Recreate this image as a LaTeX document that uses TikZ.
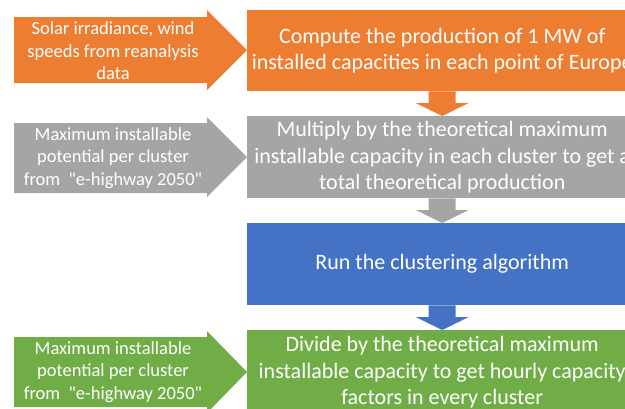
\documentclass[tikz,border=0pt]{standalone}
\usepackage{fontspec}
\setmainfont{Carlito}[Ligatures=TeXOff]
\usetikzlibrary{calc}
\definecolor{cOr}{HTML}{ED7D31}
\definecolor{cGr}{HTML}{A5A5A5}
\definecolor{cBl}{HTML}{4472C4}
\definecolor{cGn}{HTML}{70AD47}
\newcommand{\downarr}[3]{%
  \fill[#3] let \p1=(#1.south), \p2=(#2.north) in
    (\x1-13.5pt,\y1) -- (\x1+13.5pt,\y1) -- (\x1+13.5pt,\y2+13pt) -- (\x1+26.5pt,\y2+13pt)
    -- (\x1,\y2) -- (\x1-26.5pt,\y2+13pt) -- (\x1-13.5pt,\y2+13pt) -- cycle;}
\newcommand{\leftarr}[6]{% color, bodytop, bodybottom, headtop, headbottom, tip y
  \fill[#1] (14,#2) -- (207,#2) -- (207,#4) -- (247,#6) -- (207,#5) -- (207,#3) -- (14,#3) -- cycle;}
\begin{document}
\begin{tikzpicture}[x=1pt,y=-1pt,
  box/.style={minimum width=390pt, inner sep=0pt, text=white,
    font=\fontsize{22}{26.5}\selectfont, align=center, anchor=north west},
  intext/.style={text=white, inner sep=0pt, align=center,
    font=\fontsize{18.5}{22.5}\selectfont}]
\useasboundingbox (0,0) rectangle (625,408);
\clip (0,0) rectangle (625,408);
% boxes
\node[box, fill=cOr, minimum height=81pt] (b1) at (247,10)
  {Compute the production of 1 MW of\\installed capacities in each point of Europe};
\node[box, fill=cGr, minimum height=82pt] (b2) at (247,116)
  {Multiply by the theoretical maximum\\installable capacity in each cluster to get a\\total theoretical production};
\node[box, fill=cBl, minimum height=82pt] (b3) at (247,223)
  {Run the clustering algorithm};
\node[box, fill=cGn, minimum height=84pt] (b4) at (247,330)
  {Divide by the theoretical maximum\\installable capacity to get hourly capacity\\factors in every cluster};
% connectors
\downarr{b1}{b2}{cOr}
\downarr{b2}{b3}{cGr}
\downarr{b3}{b4}{cBl}
% input arrows
\leftarr{cOr}{17}{83}{10}{90}{50}
\node[intext] (i1) at (113,51) {Solar irradiance, wind\\speeds from reanalysis\\data};
\leftarr{cGr}{123}{193}{117}{197}{157}
\node[intext] (i2) at (113,158) {Maximum installable\\potential per cluster\\from \ "e-highway 2050"};
\leftarr{cGn}{337}{407}{331}{413}{372}
\node[intext] (i3) at (113,372) {Maximum installable\\potential per cluster\\from \ "e-highway 2050"};
\end{tikzpicture}
\end{document}
